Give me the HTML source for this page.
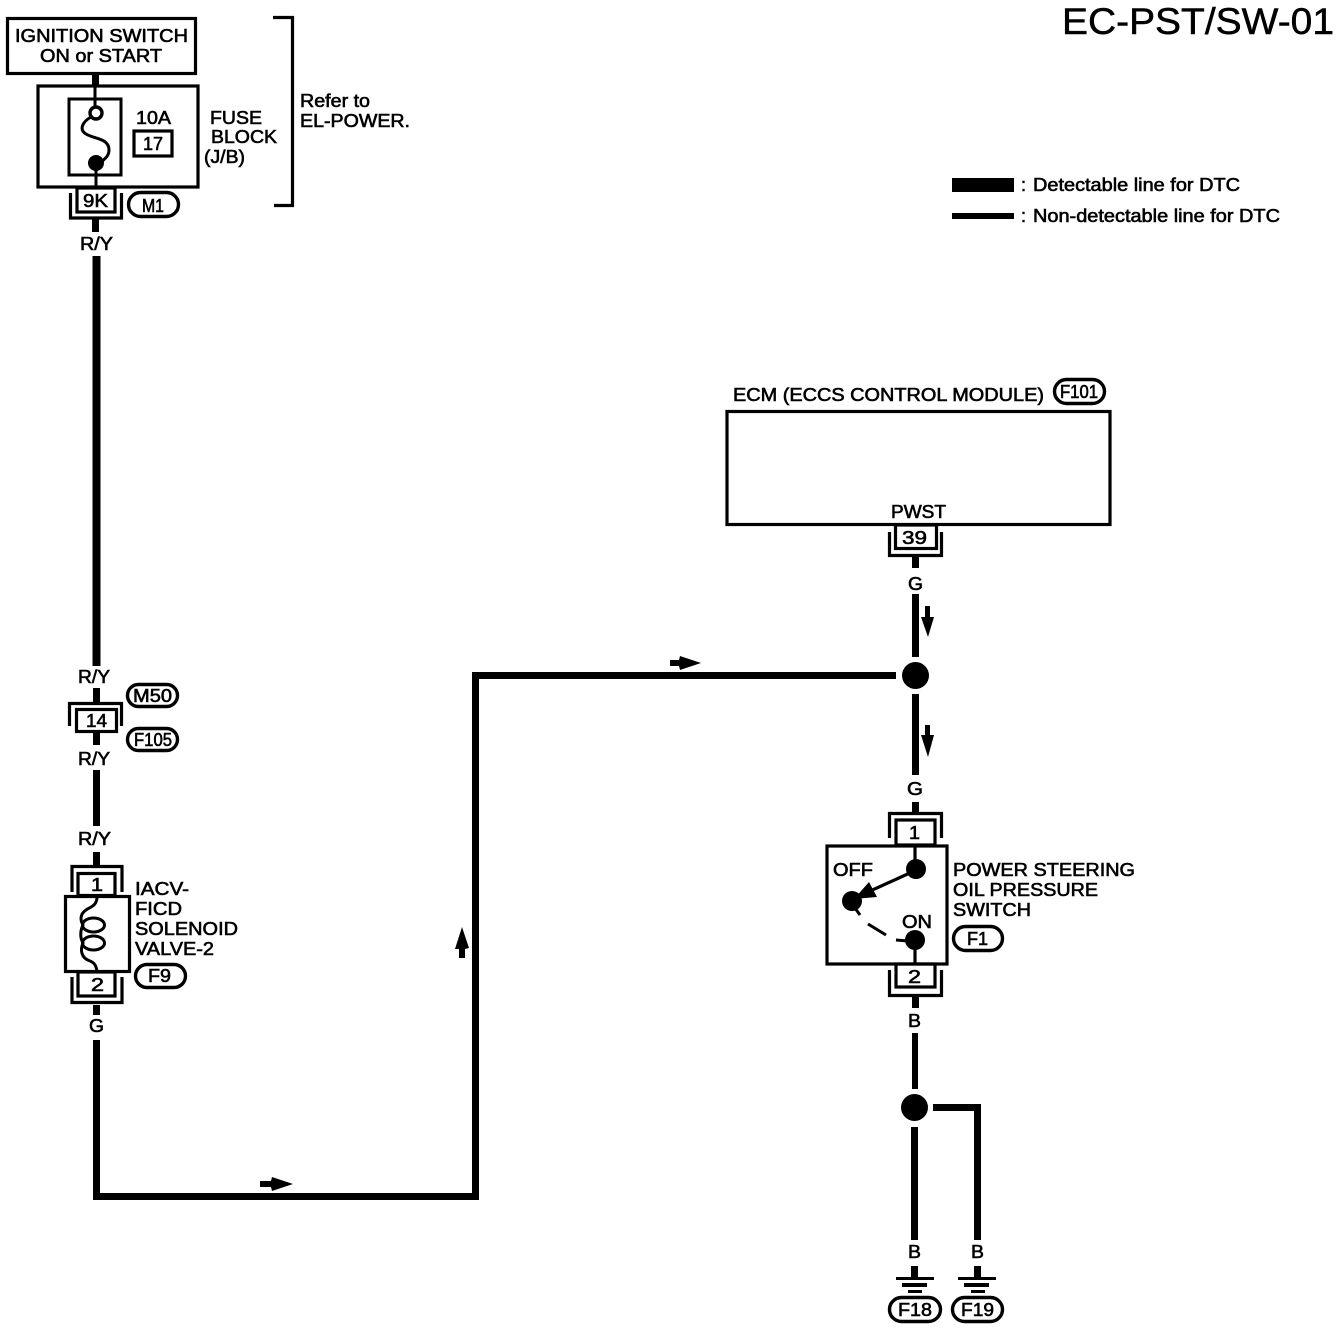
<!DOCTYPE html>
<html>
<head>
<meta charset="utf-8">
<style>
html,body{margin:0;padding:0;background:#fff}
svg{display:block}
text{font-family:"Liberation Sans",sans-serif;font-size:18px;fill:#000;stroke:#000;stroke-width:.6px}
.s{fill:none;stroke:#000;stroke-width:3.2;stroke-linejoin:miter}
.t{fill:none;stroke:#000;stroke-width:3}
.p{fill:none;stroke:#000;stroke-width:3.4}
.w{fill:#000;stroke:none}
</style>
</head>
<body>
<svg width="1344" height="1330" viewBox="0 0 1344 1330" xmlns="http://www.w3.org/2000/svg">
<rect width="1344" height="1330" fill="#fff"/>

<!-- title -->
<text x="1062" y="34" style="font-size:37px;stroke-width:.5px" textLength="272" lengthAdjust="spacingAndGlyphs">EC-PST/SW-01</text>

<!-- legend -->
<rect class="w" x="952" y="178" width="62" height="14"/>
<rect class="w" x="952" y="213" width="62" height="6"/>
<text x="1021" y="191">:</text>
<text x="1021" y="222">:</text>
<text x="1033" y="191" textLength="207" lengthAdjust="spacingAndGlyphs">Detectable line for DTC</text>
<text x="1033" y="222" textLength="247" lengthAdjust="spacingAndGlyphs">Non-detectable line for DTC</text>

<!-- ignition -->
<rect class="s" x="7.500" y="18.500" width="188" height="55"/>
<text x="15" y="42" textLength="173" lengthAdjust="spacingAndGlyphs">IGNITION SWITCH</text>
<text x="40" y="62" textLength="122" lengthAdjust="spacingAndGlyphs">ON or START</text>
<rect class="w" x="92" y="74" width="7" height="11"/>

<!-- fuse block -->
<rect class="s" x="38" y="86" width="160" height="101"/>
<rect class="t" x="69" y="99" width="52" height="76"/>
<line class="t" x1="95" y1="86" x2="95" y2="106"/>
<circle cx="96" cy="113" r="6" fill="#fff" stroke="#000" stroke-width="3.4"/>
<path class="t" d="M91,117 C82,122 79,130 86,134 C94,139 109,138 109,150 C109,157 103,160 100,163"/>
<circle class="w" cx="96" cy="163" r="8"/>
<line class="t" x1="96" y1="170" x2="96" y2="188"/>
<text x="136" y="124" textLength="35" lengthAdjust="spacingAndGlyphs">10A</text>
<rect class="s" x="134" y="131" width="38" height="25"/>
<text x="143" y="150" textLength="20" lengthAdjust="spacingAndGlyphs">17</text>
<text x="210" y="124" textLength="52" lengthAdjust="spacingAndGlyphs">FUSE</text>
<text x="211" y="143" textLength="66" lengthAdjust="spacingAndGlyphs">BLOCK</text>
<text x="204" y="163" textLength="41" lengthAdjust="spacingAndGlyphs">(J/B)</text>

<!-- bracket -->
<path class="s" d="M273,17.500 H292.500 V205.500 H274"/>
<text x="300" y="107" textLength="70" lengthAdjust="spacingAndGlyphs">Refer to</text>
<text x="300" y="127" textLength="110" lengthAdjust="spacingAndGlyphs">EL-POWER.</text>

<!-- 9K -->
<rect class="s" x="77" y="188" width="38" height="24"/>
<path class="s" d="M70.500,193 V218 H121.500 V193"/>
<text x="83" y="207" textLength="25" lengthAdjust="spacingAndGlyphs">9K</text>
<rect class="p" x="128.500" y="192.500" width="50" height="24" rx="12"/>
<text x="142" y="212" textLength="22" lengthAdjust="spacingAndGlyphs">M1</text>
<rect class="w" x="92" y="219" width="7" height="13"/>
<text x="80" y="250" textLength="33" lengthAdjust="spacingAndGlyphs">R/Y</text>

<!-- left wire -->
<rect class="w" x="92.500" y="256" width="8" height="410"/>
<text x="78" y="683" textLength="32" lengthAdjust="spacingAndGlyphs">R/Y</text>
<rect class="w" x="93" y="688" width="7" height="14"/>
<path class="s" d="M69.500,726 V703.500 H121.500 V726"/>
<rect class="s" x="76.500" y="709.500" width="40" height="22"/>
<text x="86" y="727" textLength="21" lengthAdjust="spacingAndGlyphs">14</text>
<rect class="w" x="93" y="732" width="7" height="13"/>
<rect class="p" x="127.500" y="684.500" width="50" height="22" rx="11"/>
<text x="133" y="702" textLength="39" lengthAdjust="spacingAndGlyphs">M50</text>
<rect class="p" x="127.500" y="728.500" width="50" height="22" rx="11"/>
<text x="134" y="746" textLength="38" lengthAdjust="spacingAndGlyphs">F105</text>
<text x="78" y="765" textLength="32" lengthAdjust="spacingAndGlyphs">R/Y</text>
<rect class="w" x="93" y="770" width="7" height="56"/>
<text x="78" y="845" textLength="33" lengthAdjust="spacingAndGlyphs">R/Y</text>
<rect class="w" x="93" y="852" width="7" height="14"/>

<!-- solenoid -->
<path class="s" d="M72,892 V866.500 H122 V892"/>
<rect class="s" x="78" y="873.500" width="37" height="22"/>
<text x="91" y="891" textLength="12" lengthAdjust="spacingAndGlyphs">1</text>
<rect class="s" x="65.500" y="896.500" width="64" height="75"/>
<path class="t" d="M97,897 C97,906 90,907 86,910 C80,914 80,920 83,925 C80,931 80,938 83,943 C80,950 81,958 90,961 C95,963 96,966 97,971"/>
<ellipse class="t" cx="93.500" cy="925" rx="11" ry="7"/>
<ellipse class="t" cx="93.500" cy="943" rx="11" ry="7"/>
<rect class="s" x="78" y="972" width="37" height="24"/>
<text x="91" y="991" textLength="13" lengthAdjust="spacingAndGlyphs">2</text>
<path class="s" d="M72,977 V1002.500 H122 V977"/>
<text x="135" y="895" textLength="54" lengthAdjust="spacingAndGlyphs">IACV-</text>
<text x="135" y="915" textLength="47" lengthAdjust="spacingAndGlyphs">FICD</text>
<text x="135" y="935" textLength="103" lengthAdjust="spacingAndGlyphs">SOLENOID</text>
<text x="135" y="955" textLength="79" lengthAdjust="spacingAndGlyphs">VALVE-2</text>
<rect class="p" x="135.500" y="964.500" width="50" height="23" rx="11.500"/>
<text x="148" y="982" textLength="23" lengthAdjust="spacingAndGlyphs">F9</text>
<rect class="w" x="93" y="1005" width="7" height="10"/>
<text x="89" y="1032" textLength="15" lengthAdjust="spacingAndGlyphs">G</text>

<!-- main wire -->
<path class="w" d="M93,1040 H100 V1193 H472 V672 H896 V679 H479 V1200 H93 Z"/>

<!-- flow arrows -->
<path class="w" d="M260,1181 H271 L272,1177 L293,1184 L272,1191 L271,1187 H260 Z"/>
<path class="w" d="M670,660 H679 L680,656 L701,663 L680,670 L679,666 H670 Z"/>
<path class="w" d="M462,927 L469,948 L465,949 V958 H459 V949 L455,949 Z"/>
<path class="w" d="M925,606 H930 V617 H934 L928,637 L921,617 H925 Z"/>
<path class="w" d="M925,725 H930 V735 H934 L928,757 L921,735 H925 Z"/>

<!-- ECM -->
<text x="733" y="401" textLength="311" lengthAdjust="spacingAndGlyphs">ECM (ECCS CONTROL MODULE)</text>
<rect class="p" x="1054.500" y="379.500" width="50" height="24" rx="12"/>
<text x="1060" y="398" textLength="38" lengthAdjust="spacingAndGlyphs">F101</text>
<rect class="s" x="727" y="411.500" width="383" height="113"/>
<text x="891" y="518" textLength="55" lengthAdjust="spacingAndGlyphs">PWST</text>
<rect class="s" x="895.500" y="525" width="41" height="23.500"/>
<text x="902" y="544" textLength="25" lengthAdjust="spacingAndGlyphs">39</text>
<path class="s" d="M889.500,532 V555.500 H941.500 V532"/>
<rect class="w" x="912" y="557" width="7" height="11"/>
<text x="908" y="590" textLength="15" lengthAdjust="spacingAndGlyphs">G</text>
<rect class="w" x="912" y="594" width="7" height="63"/>
<circle class="w" cx="915.500" cy="675.500" r="13.500"/>
<rect class="w" x="912" y="694" width="7" height="81"/>
<text x="907" y="795" textLength="16" lengthAdjust="spacingAndGlyphs">G</text>
<rect class="w" x="912" y="802" width="7" height="10"/>

<!-- switch -->
<path class="s" d="M889.500,838 V813.500 H941.500 V838"/>
<rect class="s" x="896" y="820" width="39" height="25"/>
<text x="909" y="839" textLength="11" lengthAdjust="spacingAndGlyphs">1</text>
<rect class="s" x="827" y="846" width="120" height="118"/>
<line class="s" x1="915" y1="847" x2="915" y2="862"/>
<circle class="w" cx="916" cy="869" r="10"/>
<circle class="w" cx="852" cy="901" r="10"/>
<line class="s" x1="912" y1="872" x2="868" y2="892"/>
<path class="w" d="M854,899 L869,882 L877,897 Z"/>
<text x="833" y="876" textLength="40" lengthAdjust="spacingAndGlyphs">OFF</text>
<text x="902" y="928" textLength="30" lengthAdjust="spacingAndGlyphs">ON</text>
<line class="t" x1="855" y1="908" x2="860" y2="915"/>
<line class="t" x1="868" y1="924" x2="886" y2="935"/>
<line class="t" x1="896" y1="940" x2="908" y2="941"/>
<circle class="w" cx="915" cy="940" r="10"/>
<line class="s" x1="915" y1="948" x2="915" y2="964"/>
<rect class="s" x="896" y="964" width="39" height="23"/>
<text x="908" y="983" textLength="13" lengthAdjust="spacingAndGlyphs">2</text>
<path class="s" d="M889.500,970 V995.500 H941.500 V970"/>
<text x="953" y="876" textLength="182" lengthAdjust="spacingAndGlyphs">POWER STEERING</text>
<text x="953" y="896" textLength="145" lengthAdjust="spacingAndGlyphs">OIL PRESSURE</text>
<text x="953" y="916" textLength="78" lengthAdjust="spacingAndGlyphs">SWITCH</text>
<rect class="p" x="953.500" y="926.500" width="49" height="24" rx="12"/>
<text x="967" y="945" textLength="21" lengthAdjust="spacingAndGlyphs">F1</text>
<rect class="w" x="912" y="997" width="7" height="11"/>
<text x="908" y="1027" textLength="13" lengthAdjust="spacingAndGlyphs">B</text>
<rect class="w" x="912" y="1033" width="6" height="56"/>

<!-- ground junction -->
<circle class="w" cx="914.500" cy="1107.500" r="13.500"/>
<rect class="w" x="911" y="1127" width="7" height="113"/>
<path class="w" d="M933,1104 H981 V1240 H974 V1111 H933 Z"/>
<text x="908" y="1258" textLength="13" lengthAdjust="spacingAndGlyphs">B</text>
<text x="971" y="1258" textLength="13" lengthAdjust="spacingAndGlyphs">B</text>
<rect class="w" x="911" y="1266" width="7" height="11"/>
<rect class="w" x="896" y="1277" width="38" height="3"/>
<rect class="w" x="902" y="1283" width="25" height="4"/>
<rect class="w" x="908" y="1290" width="14" height="3"/>
<rect class="w" x="974" y="1266" width="7" height="11"/>
<rect class="w" x="958" y="1277" width="38" height="3"/>
<rect class="w" x="964" y="1283" width="25" height="4"/>
<rect class="w" x="971" y="1290" width="14" height="3"/>
<rect class="p" x="889.500" y="1297.500" width="51" height="24" rx="12"/>
<text x="898" y="1316" textLength="34" lengthAdjust="spacingAndGlyphs">F18</text>
<rect class="p" x="952.500" y="1297.500" width="50" height="24" rx="12"/>
<text x="961" y="1316" textLength="33" lengthAdjust="spacingAndGlyphs">F19</text>
</svg>
</body>
</html>
